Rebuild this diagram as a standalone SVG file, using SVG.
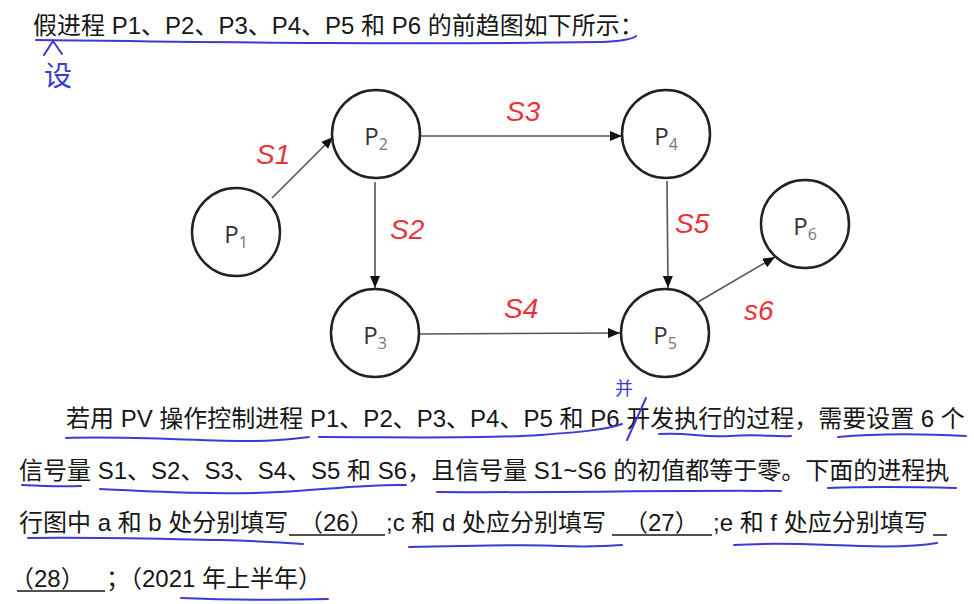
<svg xmlns="http://www.w3.org/2000/svg" width="974" height="604" viewBox="0 0 974 604">
<style>
.t{font-family:"Liberation Sans","Noto Sans CJK SC",sans-serif;font-size:24px;fill:#161616}
.node circle{fill:#fff;stroke:#222;stroke-width:2.5}
.pl{font-family:"Open Sans","Liberation Sans",sans-serif;font-size:24px;fill:#333;text-anchor:middle}
.sub{font-size:16px;fill:#777}
.edge{stroke:#555;stroke-width:1.6;fill:none}
.red{font-family:"Liberation Sans",sans-serif;font-size:28px;fill:#e8333a;font-style:italic}
.blue{stroke:#3b3bd4;stroke-width:2;fill:none;stroke-linecap:round}
.bt{font-family:"Noto Sans CJK SC",sans-serif;fill:#3b3bd4}
.blank{stroke:#161616;stroke-width:1.5}
</style>
<defs>
<marker id="arr" viewBox="0 0 12 10" refX="12" refY="5" markerWidth="12" markerHeight="10" markerUnits="userSpaceOnUse" orient="auto">
<path d="M0,0 L12,5 L0,10 z" fill="#111"/>
</marker>
</defs>
<rect width="974" height="604" fill="#fff"/>

<!-- text -->
<g id="text">
<text class="t" x="33" y="34">假进程 P1、P2、P3、P4、P5 和 P6 的前趋图如下所示：</text>
<text class="t" x="66" y="427">若用 PV 操作控制进程 P1、P2、P3、P4、P5 和 P6 开发执行的过程，需要设置 6 个</text>
<text class="t" x="19" y="479">信号量 S1、S2、S3、S4、S5 和 S6，且信号量 S1~S6 的初值都等于零。下面的进程执</text>
<text class="t" x="19" y="531">行图中 a 和 b 处分别填写</text>
<text class="t" x="299" y="531">（26）</text>
<text class="t" x="386" y="531">;c 和 d 处应分别填写</text>
<text class="t" x="624" y="531">（27）</text>
<text class="t" x="713" y="531">;e 和 f 处应分别填写</text>
<text class="t" x="10" y="587">（28）</text>
<text class="t" x="106" y="587">；（2021 年上半年）</text>
<line class="blank" x1="289" y1="535" x2="385" y2="535"/>
<line class="blank" x1="612" y1="535" x2="712" y2="535"/>
<line class="blank" x1="933" y1="535" x2="947" y2="535"/>
<line class="blank" x1="17" y1="591" x2="105" y2="591"/>
</g>

<!-- connectors -->
<g id="connectors">
<line class="edge" x1="272" y1="198" x2="333" y2="137" marker-end="url(#arr)"/>
<line class="edge" x1="421" y1="136" x2="622" y2="136" marker-end="url(#arr)"/>
<line class="edge" x1="375" y1="182" x2="375" y2="288" marker-end="url(#arr)"/>
<line class="edge" x1="667" y1="181" x2="668" y2="288" marker-end="url(#arr)"/>
<line class="edge" x1="420" y1="334" x2="620" y2="333" marker-end="url(#arr)"/>
<line class="edge" x1="698" y1="302" x2="775" y2="257" marker-end="url(#arr)"/>
</g>

<!-- nodes -->
<g id="P1" class="node"><circle cx="236" cy="232" r="44"/><text class="pl" x="236" y="243">P<tspan class="sub" dy="5">1</tspan></text></g>
<g id="P2" class="node"><circle cx="376" cy="134" r="44"/><text class="pl" x="376" y="145">P<tspan class="sub" dy="5">2</tspan></text></g>
<g id="P3" class="node"><circle cx="375" cy="333" r="44"/><text class="pl" x="375" y="344">P<tspan class="sub" dy="5">3</tspan></text></g>
<g id="P4" class="node"><circle cx="666" cy="134" r="44"/><text class="pl" x="666" y="145">P<tspan class="sub" dy="5">4</tspan></text></g>
<g id="P5" class="node"><circle cx="665" cy="333" r="44"/><text class="pl" x="665" y="344">P<tspan class="sub" dy="5">5</tspan></text></g>
<g id="P6" class="node"><circle cx="805" cy="224" r="44"/><text class="pl" x="805" y="235">P<tspan class="sub" dy="5">6</tspan></text></g>

<!-- red handwritten labels -->
<g id="labels">
<text class="red" x="256" y="164">S1</text>
<text class="red" x="390" y="239">S2</text>
<text class="red" x="506" y="121">S3</text>
<text class="red" x="675" y="233">S5</text>
<text class="red" x="504" y="318">S4</text>
<text class="red" x="744" y="320">s6</text>
</g>

<!-- blue annotations -->
<g id="annotations">
<path class="blue" d="M36,40 C200,42 400,45 600,42 Q630,41 636,36"/>
<path class="blue" d="M44,55 L53,41 L62,54"/>
<text class="bt" x="58" y="86" font-size="28" text-anchor="middle">设</text>
<path class="blue" d="M66,438 C130,436 200,441 250,441 C280,441 300,438 309,437"/>
<path class="blue" d="M319,437 C400,437 480,439 540,435 C580,432 605,430 622,424"/>
<path class="blue" d="M627,440 L646,398"/>
<text class="bt" x="624" y="395" font-size="18" text-anchor="middle">并</text>
<path class="blue" d="M659,434 C690,432 700,438 730,436 C760,434 775,437 791,436"/>
<path class="blue" d="M838,437 C880,433 930,434 966,436"/>
<path class="blue" d="M22,485 C40,486 60,487 81,486"/>
<path class="blue" d="M100,489 C160,492 220,495 280,492 C330,489 370,484 406,485"/>
<path class="blue" d="M437,492 C550,493 680,490 781,491"/>
<path class="blue" d="M828,488 C880,486 920,487 956,488"/>
<path class="blue" d="M28,538 C100,537 160,539 220,540 C260,541 290,543 303,544"/>
<path class="blue" d="M409,547 C480,546 520,544 560,546 C590,547 610,546 622,545"/>
<path class="blue" d="M734,545 C780,542 820,545 860,546 C890,547 920,546 937,543"/>
<path class="blue" d="M181,598 C230,600 290,600 328,599"/>
</g>
</svg>
